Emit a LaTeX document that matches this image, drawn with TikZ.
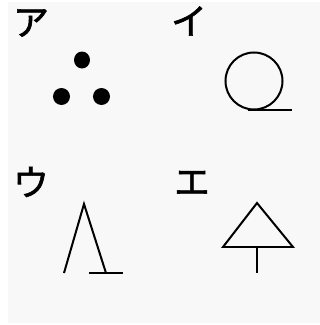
\documentclass[tikz,border=0pt]{standalone}
\usepackage{fontspec}
\newfontfamily\jp[FakeBold=1.5]{Noto Sans CJK JP}
\definecolor{bg}{HTML}{F8F8F8}
\begin{document}
\begin{tikzpicture}[x=1pt,y=1pt,
  lbl/.style={font=\jp\fontsize{36}{36}\selectfont, inner sep=0pt},
  fig/.style={line width=2pt, black},
  dot/.style={fill=black, draw=none}]
\useasboundingbox (0,0) rectangle (320,325);
\fill[white] (0,0) rectangle (320,325);
\fill[bg] (8,2) rectangle (320,323);
% labels
\node[lbl] (a) at (31,302) {ア};
\node[lbl] (i) at (189,304) {イ};
\node[lbl] (u) at (31,143) {ウ};
\node[lbl] (e) at (192,142) {エ};
% ア: three dots
\fill[dot] (82,265) ellipse (8 and 8.5);
\fill[dot] (61.5,228.5) circle (8.5);
\fill[dot] (101.5,228.5) circle (8.5);
% イ: circle with tail
\coordinate (ic) at (254,244);
\draw[fig] (ic) circle (28.5);
\coordinate (it1) at (248,215.5);
\coordinate (it2) at (292,215.5);
\draw[fig] (it1) -- (it2);
% ウ: lambda with foot
\coordinate (ua) at (84,121);
\coordinate (ul) at (64,52);
\coordinate (ur) at (106,52);
\coordinate (ub1) at (89,52);
\coordinate (ub2) at (123,52);
\draw[fig] (ul) -- (ua) -- (ur);
\draw[fig] (ub1) -- (ub2);
% エ: triangle with stem
\coordinate (ea) at (257,122);
\coordinate (el) at (223,78);
\coordinate (er) at (293,78);
\coordinate (em) at (257,78);
\coordinate (es) at (257,52);
\draw[fig, line join=miter] (ea) -- (el) -- (er) -- cycle;
\draw[fig] (em) -- (es);
\end{tikzpicture}
\end{document}
